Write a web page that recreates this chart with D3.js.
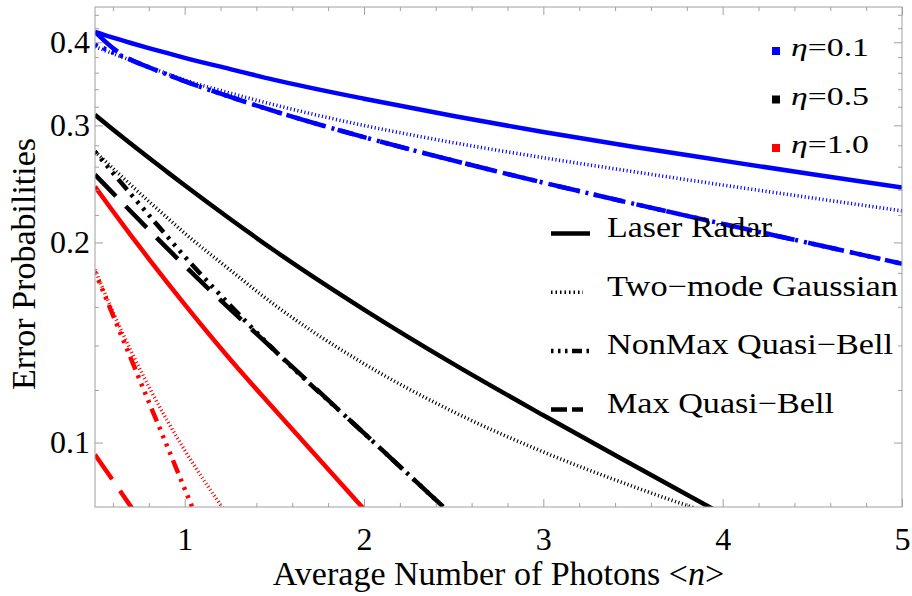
<!DOCTYPE html>
<html>
<head>
<meta charset="utf-8">
<script src="https://cdn.jsdelivr.net/npm/d3@7"></script>
<style>
  body { margin: 0; background: #fff; }
  text { font-family: "Liberation Serif", "Times New Roman", serif; fill: #000; }
</style>
</head>
<body>
<svg id="chart" width="912" height="596"></svg>
<script>
// average photon number grid
const photons = [0.5, 0.6, 0.7, 0.8, 0.9, 1.0, 1.25, 1.5, 2, 2.5, 3, 3.5, 4, 4.5, 5];

// eta = 0.1
const laser01  = [0.4146, 0.4064, 0.3990, 0.3921, 0.3855, 0.3790, 0.3648, 0.3512, 0.3290, 0.3098, 0.2931, 0.2786, 0.2655, 0.2532, 0.2418];
const gauss01  = [0.3940, 0.3846, 0.3757, 0.3671, 0.3589, 0.3511, 0.3357, 0.3221, 0.2999, 0.2825, 0.2682, 0.2556, 0.2440, 0.2333, 0.2231];
const nonmax01 = [0.3968, 0.3864, 0.3765, 0.3669, 0.3580, 0.3495, 0.3313, 0.3151, 0.2880, 0.2655, 0.2460, 0.2288, 0.2133, 0.1991, 0.1858];
const max01    = [0.4146, 0.3920, 0.3765, 0.3669, 0.3580, 0.3495, 0.3313, 0.3151, 0.2880, 0.2655, 0.2460, 0.2288, 0.2133, 0.1991, 0.1858];

// eta = 0.5
const laser05  = [0.3112, 0.2958, 0.2815, 0.2681, 0.2556, 0.2438, 0.2173, 0.1945, 0.1585, 0.1312, 0.1099, 0.0925, 0.0780, null, null];
const gauss05  = [0.2740, 0.2585, 0.2440, 0.2305, 0.2182, 0.2065, 0.1821, 0.1612, 0.1314, 0.1112, 0.0968, 0.0859, 0.0771, null, null];
const nonmax05 = [0.2740, 0.2544, 0.2364, 0.2199, 0.2046, 0.1905, 0.1613, 0.1377, 0.1033, 0.0774, null, null, null, null, null];
const max05    = [0.2529, 0.2372, 0.2226, 0.2090, 0.1963, 0.1845, 0.1590, 0.1377, 0.1033, 0.0774, null, null, null, null, null];

// eta = 1.0
const laser10  = [0.2427, 0.2228, 0.2050, 0.1890, 0.1745, 0.1614, 0.1338, 0.1122, 0.0794, null, null, null, null, null, null];
const gauss10  = [0.1820, 0.1572, 0.1375, 0.1214, 0.1082, 0.0974, 0.0771, null, null, null, null, null, null, null, null];
const nonmax10 = [0.1807, 0.1555, 0.1338, 0.1151, 0.0991, 0.0852, 0.0585, null, null, null, null, null, null, null, null];
const max10    = [0.0959, 0.0877, 0.0801, 0.0732, null, null, null, null, null, null, null, null, null, null, null];

const xTicks = [1, 2, 3, 4, 5];
const yTicks = [0.1, 0.2, 0.3, 0.4];
const etaLabels = ["0.1", "0.5", "1.0"];
const etaColors = ["#0000ff", "#000000", "#ff0000"];
const methods = ["Laser Radar", "Two\u2212mode Gaussian", "NonMax Quasi\u2212Bell", "Max Quasi\u2212Bell"];

const svg = d3.select("#chart");
const pl = 95, pr = 902, pt = 7, pb = 507;

const x = d3.scaleLinear().domain([0.5, 5]).range([pl, pr]);
const y = d3.scaleLog().domain([0.08, 0.452]).range([pb, pt]);

// line styles
const styles = {
    solid:  { width: 4.5, dash: null },
    gauss:  { width: 3.6, dash: "1.1,2.5" },
    nonmax: { width: 4.5, dash: "3,6,3,6,3,6,3,6,14,6" },
    max:    { width: 4.5, dash: "30,14" }
};

const series = [
    { v: max10, c: etaColors[2], s: "max" },
    { v: nonmax10, c: etaColors[2], s: "nonmax" },
    { v: gauss10, c: etaColors[2], s: "gauss" },
    { v: laser10, c: etaColors[2], s: "solid" },
    { v: max05, c: etaColors[1], s: "max" },
    { v: nonmax05, c: etaColors[1], s: "nonmax" },
    { v: gauss05, c: etaColors[1], s: "gauss" },
    { v: laser05, c: etaColors[1], s: "solid" },
    { v: max01, c: etaColors[0], s: "max" },
    { v: nonmax01, c: etaColors[0], s: "nonmax" },
    { v: gauss01, c: etaColors[0], s: "gauss" },
    { v: laser01, c: etaColors[0], s: "solid" }
];

svg.append("defs").append("clipPath").attr("id", "plotclip")
    .append("rect").attr("x", pl).attr("y", pt)
    .attr("width", pr - pl).attr("height", pb - pt);

const line = d3.line()
    .defined(d => d[1] != null)
    .x(d => x(d[0]))
    .y(d => y(d[1]))
    .curve(d3.curveMonotoneX);

svg.append("g").attr("clip-path", "url(#plotclip)")
    .selectAll("path")
    .data(series)
    .enter().append("path")
    .attr("d", d => line(photons.map((n, i) => [n, d.v[i]])))
    .attr("fill", "none")
    .attr("stroke", d => d.c)
    .attr("stroke-width", d => styles[d.s].width)
    .attr("stroke-dasharray", d => styles[d.s].dash)
    .attr("stroke-linecap", "butt");

// frame
svg.append("rect")
    .attr("x", pl).attr("y", pt)
    .attr("width", pr - pl).attr("height", pb - pt)
    .attr("fill", "none").attr("stroke", "#a0a0a0").attr("stroke-width", 1);

// minor tick values
const xMinor = d3.range(0.6, 4.81, 0.2).filter(v => Math.abs(v - Math.round(v)) > 0.01);
const yMinor = d3.range(0.1, 0.441, 0.02).filter(v => yTicks.every(t => Math.abs(t - v) > 0.001));

function styleAxis(g) {
    g.select(".domain").remove();
    g.selectAll(".tick line").attr("stroke", "#a0a0a0");
    g.selectAll("text").style("font-size", "32px");
}

svg.append("g").attr("transform", `translate(0,${pb})`)
    .call(d3.axisBottom(x).tickValues(xTicks).tickSize(-8).tickPadding(20).tickFormat(d3.format("d")))
    .call(styleAxis);
svg.append("g").attr("transform", `translate(0,${pb})`)
    .call(d3.axisBottom(x).tickValues(xMinor).tickSize(-4).tickFormat(""))
    .call(styleAxis);
svg.append("g").attr("transform", `translate(0,${pt})`)
    .call(d3.axisTop(x).tickValues(xTicks).tickSize(-8).tickFormat(""))
    .call(styleAxis);
svg.append("g").attr("transform", `translate(0,${pt})`)
    .call(d3.axisTop(x).tickValues(xMinor).tickSize(-4).tickFormat(""))
    .call(styleAxis);

svg.append("g").attr("transform", `translate(${pl},0)`)
    .call(d3.axisLeft(y).tickValues(yTicks).tickSize(-8).tickPadding(5).tickFormat(d3.format(".1f")))
    .call(styleAxis);
svg.append("g").attr("transform", `translate(${pl},0)`)
    .call(d3.axisLeft(y).tickValues(yMinor).tickSize(-4).tickFormat(""))
    .call(styleAxis);
svg.append("g").attr("transform", `translate(${pr},0)`)
    .call(d3.axisRight(y).tickValues(yTicks).tickSize(-8).tickFormat(""))
    .call(styleAxis);
svg.append("g").attr("transform", `translate(${pr},0)`)
    .call(d3.axisRight(y).tickValues(yMinor).tickSize(-4).tickFormat(""))
    .call(styleAxis);

// axis titles
svg.append("text")
    .attr("x", (pl + pr) / 2).attr("y", 585)
    .attr("text-anchor", "middle").style("font-size", "34px")
    .html("Average Number of Photons &lt;<tspan font-style='italic'>n</tspan>&gt;");
svg.append("text")
    .attr("transform", `translate(35,${(pt + pb) / 2 + 7}) rotate(-90)`)
    .attr("text-anchor", "middle").style("font-size", "34px")
    .text("Error Probabilities");

// eta legend
const etaG = svg.append("g");
etaLabels.forEach((lab, i) => {
    const by = 56 + i * 48.5;
    etaG.append("rect").attr("x", 772).attr("y", by - 9).attr("width", 8).attr("height", 8)
        .attr("fill", etaColors[i]);
    etaG.append("text").attr("x", 791).attr("y", by)
        .attr("textLength", 78).attr("lengthAdjust", "spacingAndGlyphs")
        .style("font-size", "25px")
        .html(`<tspan font-style="italic">\u03b7</tspan>=${lab}`);
});

// method legend
const legendDash = ["", "1.5,3", "2.5,4.5,2.5,4.5,2.5,4.5,10,4.5", "16,5"];
const legendLen = [39, 32, 38, 32];
const legendW = [4.5, 3.5, 4.5, 4.5];
const textLen = [165, 291, 286, 227];
const legG = svg.append("g");
methods.forEach((m, i) => {
    const by = 237 + i * 58.7;
    legG.append("line")
        .attr("x1", 551).attr("x2", 551 + legendLen[i])
        .attr("y1", by - 3.5).attr("y2", by - 3.5)
        .attr("stroke", "#000").attr("stroke-width", legendW[i])
        .attr("stroke-dasharray", legendDash[i] || null);
    legG.append("text").attr("x", 607).attr("y", by)
        .attr("textLength", textLen[i]).attr("lengthAdjust", "spacingAndGlyphs")
        .style("font-size", "29px")
        .text(m);
});
</script>
</body>
</html>
